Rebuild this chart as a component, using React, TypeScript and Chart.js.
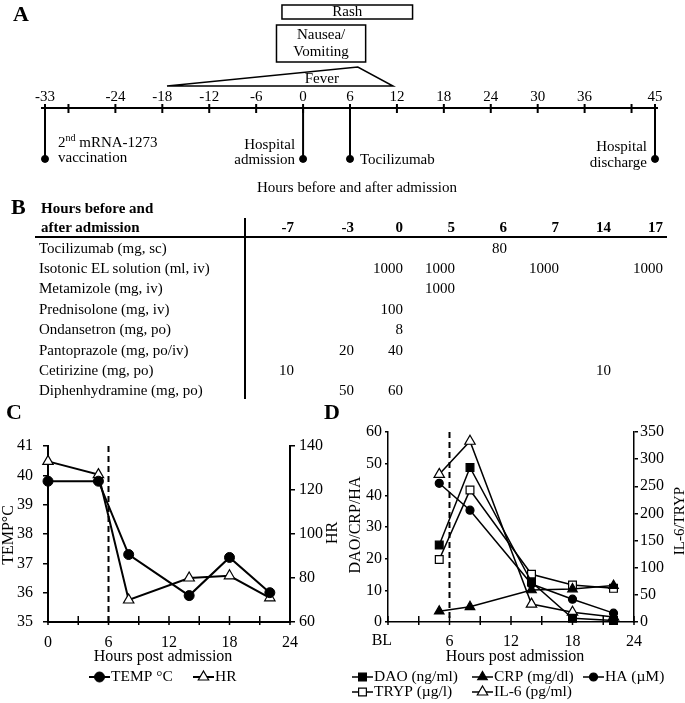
import React, { useEffect, useRef } from 'react';
import { Chart, registerables } from 'chart.js';

Chart.register(...registerables);

const SERIF = '"Liberation Serif", "Times New Roman", Times, serif';

// ---------------- Panel A: timeline ----------------
const timelineStart = -33;
const timelineEnd = 45;
const timelineTickHours = [-33, -30, -24, -18, -12, -6, 0, 6, 12, 18, 24, 30, 36, 42, 45];
const timelineLabelHours = [-33, -24, -18, -12, -6, 0, 6, 12, 18, 24, 30, 36, 45];
const eventHours = [-33, 0, 6, 45];
const rashSpan = [-2.7, 14];
const nauseaSpan = [-3.4, 8];
const feverSpan = [-17.4, 7, 11.5];

// ---------------- Panel B: medication table ----------------
const tableHours = ['-7', '-3', '0', '5', '6', '7', '14', '17'];
const drugNames = [
  'Tocilizumab (mg, sc)',
  'Isotonic EL solution (ml, iv)',
  'Metamizole (mg, iv)',
  'Prednisolone (mg, iv)',
  'Ondansetron (mg, po)',
  'Pantoprazole (mg, po/iv)',
  'Cetirizine (mg, po)',
  'Diphenhydramine (mg, po)',
];
const tocilizumabDoses = ['', '', '', '', '80', '', '', ''];
const isotonicDoses = ['', '', '1000', '1000', '', '1000', '', '1000'];
const metamizoleDoses = ['', '', '', '1000', '', '', '', ''];
const prednisoloneDoses = ['', '', '100', '', '', '', '', ''];
const ondansetronDoses = ['', '', '8', '', '', '', '', ''];
const pantoprazoleDoses = ['', '20', '40', '', '', '', '', ''];
const cetirizineDoses = ['10', '', '', '', '', '', '10', ''];
const diphenhydramineDoses = ['', '50', '60', '', '', '', '', ''];
const doseRows = [
  tocilizumabDoses, isotonicDoses, metamizoleDoses, prednisoloneDoses,
  ondansetronDoses, pantoprazoleDoses, cetirizineDoses, diphenhydramineDoses,
];

// ---------------- Panel C: vitals ----------------
const vitalHours = [0, 5, 8, 14, 18, 22];
const tempValues = [39.8, 39.8, 37.3, 35.9, 37.2, 36.0];
const hrValues = [133, 127, 70, 80, 81, 71];
const tocilizumabHour = 6;

// ---------------- Panel D: labs ----------------
const labHours = [5, 8, 14, 18, 22];
const baselineHour = -1;
const labNames = ['DAO (ng/ml)', 'CRP (mg/dl)', 'HA (µM)', 'TRYP (µg/l)', 'IL-6 (pg/ml)'];
const daoValues = [24.3, 48.8, 12.6, 1.2, 0.5];
const crpValues = [3.4, 4.8, 10.1, 10.4, 11.5];
const haValues = [43.8, 35.3, 12.0, 7.2, 2.8];
const trypValues = [115, 243, 88, 68, 62];
const il6Values = [272, 333, 33, 18, 9];
const baselineValues = [0.3, null, 4.7, 79, null];

// ---------------- layout / style (not data) ----------------
const A_LAYOUT = {
  axisY: 108, tickTop: 104, tickBottom: 113, labelY: 97, dotY: 162,
  rashTop: 5, rashBottom: 19, nauseaTop: 25, nauseaBottom: 62,
  feverBase: 86, feverPeak: 67, feverTextHour: 2.4, feverTextY: 79,
};
const TABLE_COL_RIGHT = [294, 354, 403, 455, 507, 559, 611, 663];
const TABLE_ROW_Y0 = 248;
const TABLE_ROW_STEP = 20.4;

const labStyles = [
  { axis: 'y', style: 'rect', fill: '#000', r: 5.5 },
  { axis: 'y', style: 'triangle', fill: '#000', r: 5.5 },
  { axis: 'y', style: 'circle', fill: '#000', r: 4 },
  { axis: 'y1', style: 'rect', fill: '#fff', r: 5.5 },
  { axis: 'y1', style: 'triangle', fill: '#fff', r: 6 },
];

function txt(ctx: CanvasRenderingContext2D, s: string, x: number, y: number, size: number, align: CanvasTextAlign = 'center', bold = false) {
  ctx.font = `${bold ? 'bold ' : ''}${size}px ${SERIF}`;
  ctx.textAlign = align;
  ctx.textBaseline = 'middle';
  ctx.fillStyle = '#000';
  ctx.fillText(s, x, y);
}

function seg(ctx: CanvasRenderingContext2D, x1: number, y1: number, x2: number, y2: number) {
  ctx.beginPath();
  ctx.moveTo(x1, y1);
  ctx.lineTo(x2, y2);
  ctx.stroke();
}

function marker(ctx: CanvasRenderingContext2D, style: string, x: number, y: number, r: number, fill: string, bw: number) {
  ctx.beginPath();
  if (style === 'circle') ctx.arc(x, y, r, 0, Math.PI * 2);
  else if (style === 'rect') {
    const s = r * Math.SQRT1_2;
    ctx.rect(x - s, y - s, 2 * s, 2 * s);
  } else {
    ctx.moveTo(x, y - r);
    ctx.lineTo(x + 0.866 * r, y + 0.5 * r);
    ctx.lineTo(x - 0.866 * r, y + 0.5 * r);
    ctx.closePath();
  }
  ctx.fillStyle = fill;
  ctx.fill();
  ctx.lineWidth = bw;
  ctx.strokeStyle = '#000';
  ctx.stroke();
}

const timelinePlugin = {
  id: 'timelineDecor',
  beforeDatasetsDraw(chart: any) {
    const { ctx } = chart;
    const xs = chart.scales.x;
    const px = (h: number) => xs.getPixelForValue(h);
    const L = A_LAYOUT;
    ctx.save();
    ctx.strokeStyle = '#000';
    ctx.lineWidth = 2;
    seg(ctx, px(timelineStart) - 4, L.axisY, px(timelineEnd) + 3, L.axisY);
    timelineTickHours.forEach((h) => seg(ctx, px(h), L.tickTop, px(h), L.tickBottom));
    eventHours.forEach((h) => seg(ctx, px(h), L.axisY, px(h), L.dotY));
    timelineLabelHours.forEach((h) => txt(ctx, String(h), px(h), L.labelY, 15));

    ctx.lineWidth = 1.5;
    // fever triangle
    ctx.beginPath();
    ctx.moveTo(px(feverSpan[0]), L.feverBase);
    ctx.lineTo(px(feverSpan[1]), L.feverPeak);
    ctx.lineTo(px(feverSpan[2]), L.feverBase);
    ctx.closePath();
    ctx.stroke();
    txt(ctx, 'Fever', px(L.feverTextHour), L.feverTextY, 15);
    // rash box
    ctx.strokeRect(px(rashSpan[0]), L.rashTop, px(rashSpan[1]) - px(rashSpan[0]), L.rashBottom - L.rashTop);
    txt(ctx, 'Rash', (px(rashSpan[0]) + px(rashSpan[1])) / 2, (L.rashTop + L.rashBottom) / 2 + 0.5, 15);
    // nausea box
    ctx.strokeRect(px(nauseaSpan[0]), L.nauseaTop, px(nauseaSpan[1]) - px(nauseaSpan[0]), L.nauseaBottom - L.nauseaTop);
    const nc = (px(nauseaSpan[0]) + px(nauseaSpan[1])) / 2;
    txt(ctx, 'Nausea/', nc, 35, 15);
    txt(ctx, 'Vomiting', nc, 52, 15);

    // event labels
    const vx = px(eventHours[0]) + 13;
    txt(ctx, '2', vx, 143, 15, 'left');
    ctx.font = `15px ${SERIF}`;
    const w1 = ctx.measureText('2').width;
    txt(ctx, 'nd', vx + w1, 138, 10, 'left');
    ctx.font = `10px ${SERIF}`;
    const w2 = ctx.measureText('nd').width;
    txt(ctx, ' mRNA-1273', vx + w1 + w2, 143, 15, 'left');
    txt(ctx, 'vaccination', vx, 158, 15, 'left');
    txt(ctx, 'Hospital', px(eventHours[1]) - 8, 145, 15, 'right');
    txt(ctx, 'admission', px(eventHours[1]) - 8, 160, 15, 'right');
    txt(ctx, 'Tocilizumab', px(eventHours[2]) + 10, 160, 15, 'left');
    txt(ctx, 'Hospital', px(eventHours[3]) - 8, 147, 15, 'right');
    txt(ctx, 'discharge', px(eventHours[3]) - 8, 163, 15, 'right');
    txt(ctx, 'Hours before and after admission', 357, 188, 15);
    ctx.restore();
  },
};

type LegendEntry = { ds: number; x: number; y: number; text: string };
function panelPlugin(cfg: {
  leftTitle: string; leftTitleX: number; leftTitleY: number;
  rightTitle: string; rightTitleX: number; rightTitleY: number; rightTitleSize: number;
  xTitleX: number; xTitleY: number; legend: LegendEntry[]; blLabel?: boolean;
}) {
  return {
    id: 'panelDecor',
    beforeDatasetsDraw(chart: any) {
      const { ctx, chartArea } = chart;
      const xs = chart.scales.x;
      ctx.save();
      ctx.strokeStyle = '#000';
      // dashed tocilizumab line
      ctx.lineWidth = 2;
      ctx.setLineDash([6, 4]);
      const dx = xs.getPixelForValue(tocilizumabHour);
      seg(ctx, dx, chartArea.top, dx, chartArea.bottom);
      ctx.setLineDash([]);
      // x tick marks crossing the axis
      ctx.lineWidth = 1.5;
      xs.ticks.forEach((t: any) => {
        const p = xs.getPixelForValue(t.value);
        seg(ctx, p, chartArea.bottom - 6, p, chartArea.bottom + 3);
      });
      ctx.restore();
    },
    afterDraw(chart: any) {
      const { ctx } = chart;
      const xs = chart.scales.x;
      ctx.save();
      if (cfg.blLabel) txt(ctx, 'BL', xs.getPixelForValue(-0.6), 246, 16);
      // axis titles
      ctx.save();
      ctx.translate(cfg.leftTitleX, cfg.leftTitleY);
      ctx.rotate(-Math.PI / 2);
      txt(ctx, cfg.leftTitle, 0, 0, 16);
      ctx.restore();
      ctx.save();
      ctx.translate(cfg.rightTitleX, cfg.rightTitleY);
      ctx.rotate(-Math.PI / 2);
      txt(ctx, cfg.rightTitle, 0, 0, cfg.rightTitleSize);
      ctx.restore();
      txt(ctx, 'Hours post admission', cfg.xTitleX, cfg.xTitleY, 16);
      // legend
      cfg.legend.forEach((item) => {
        const ds = chart.data.datasets[item.ds];
        ctx.strokeStyle = '#000';
        ctx.lineWidth = ds.borderWidth;
        seg(ctx, item.x, item.y, item.x + 21, item.y);
        marker(ctx, ds.pointStyle, item.x + 10.5, item.y, ds.pointRadius, ds.pointBackgroundColor, ds.pointBorderWidth);
        txt(ctx, item.text, item.x + 22, item.y, 15.5, 'left');
      });
      ctx.restore();
    },
  };
}

const tickFont = { family: SERIF, size: 16 };

function yAxis(position: 'left' | 'right', min: number, max: number, step: number, width: number, tickLen: number, pad: number, bw: number) {
  return {
    type: 'linear',
    position,
    min,
    max,
    ticks: { stepSize: step, color: '#000', font: tickFont, padding: pad },
    grid: { display: true, drawOnChartArea: false, drawTicks: true, tickLength: tickLen, color: '#000', lineWidth: 1.5 },
    border: { display: true, color: '#000', width: bw },
    afterFit: (s: any) => { s.width = width; },
  };
}

function makeTimeline(canvas: HTMLCanvasElement) {
  return new Chart(canvas, {
    type: 'scatter',
    data: {
      datasets: [{
        data: eventHours.map((h) => ({ x: h, y: A_LAYOUT.dotY })),
        pointRadius: 3.5,
        pointBackgroundColor: '#000',
        pointBorderColor: '#000',
        clip: false,
      } as any],
    },
    options: {
      responsive: false,
      animation: false,
      layout: { padding: { left: 45, right: 30, top: 0, bottom: 0 } },
      plugins: { legend: { display: false }, tooltip: { enabled: false } },
      scales: {
        x: { type: 'linear', min: timelineStart, max: timelineEnd, display: false },
        y: { type: 'linear', min: 0, max: 200, reverse: true, display: false },
      },
    } as any,
    plugins: [timelinePlugin as any],
  });
}

function makeVitals(canvas: HTMLCanvasElement) {
  return new Chart(canvas, {
    type: 'line',
    data: {
      datasets: [
        {
          label: 'TEMP °C',
          data: vitalHours.map((h, i) => ({ x: h, y: tempValues[i] })),
          yAxisID: 'y',
          borderColor: '#000', borderWidth: 2,
          pointStyle: 'circle', pointRadius: 5,
          pointBackgroundColor: '#000', pointBorderColor: '#000', pointBorderWidth: 1,
          tension: 0, clip: false, fill: false,
        },
        {
          label: 'HR',
          data: vitalHours.map((h, i) => ({ x: h, y: hrValues[i] })),
          yAxisID: 'y1',
          borderColor: '#000', borderWidth: 2,
          pointStyle: 'triangle', pointRadius: 6,
          pointBackgroundColor: '#fff', pointBorderColor: '#000', pointBorderWidth: 1.2,
          tension: 0, clip: false, fill: false,
        },
      ] as any,
    },
    options: {
      responsive: false,
      animation: false,
      layout: { padding: { top: 51, left: 0, right: 0, bottom: 0 } },
      plugins: { legend: { display: false }, tooltip: { enabled: false } },
      scales: {
        x: {
          type: 'linear', min: 0, max: 24,
          ticks: {
            stepSize: 3, autoSkip: false, maxRotation: 0, minRotation: 0, padding: 3,
            color: '#000', font: tickFont,
            callback: (v: any) => (Number(v) % 6 === 0 ? String(v) : ''),
          },
          grid: { display: false },
          border: { display: true, color: '#000', width: 2 },
          afterFit: (s: any) => { s.height = 81; },
        },
        y: yAxis('left', 35, 41, 1, 48, 5, 10, 2),
        y1: yAxis('right', 60, 140, 20, 55, 5, 4, 2),
      },
    } as any,
    plugins: [panelPlugin({
      leftTitle: 'TEMP°C', leftTitleX: 9, leftTitleY: 140,
      rightTitle: 'HR', rightTitleX: 333, rightTitleY: 138, rightTitleSize: 16,
      xTitleX: 163, xTitleY: 262,
      legend: [
        { ds: 0, x: 89, y: 282, text: 'TEMP °C' },
        { ds: 1, x: 193, y: 282, text: 'HR' },
      ],
    }) as any],
  });
}

function makeLabs(canvas: HTMLCanvasElement) {
  const series = [daoValues, crpValues, haValues, trypValues, il6Values];
  const main = series.map((vals, i) => ({
    label: labNames[i],
    data: labHours.map((h, j) => ({ x: h, y: vals[j] })),
    yAxisID: labStyles[i].axis,
    borderColor: '#000', borderWidth: 1.5,
    pointStyle: labStyles[i].style, pointRadius: labStyles[i].r,
    pointBackgroundColor: labStyles[i].fill, pointBorderColor: '#000', pointBorderWidth: 1.2,
    tension: 0, clip: false, fill: false,
  }));
  const base = baselineValues
    .map((v, i) => ({ v, i }))
    .filter((o) => o.v !== null)
    .map(({ v, i }) => ({
      label: labNames[i] + ' BL',
      data: [{ x: baselineHour, y: v }],
      yAxisID: labStyles[i].axis,
      showLine: false,
      borderColor: '#000', borderWidth: 1.5,
      pointStyle: labStyles[i].style, pointRadius: labStyles[i].r,
      pointBackgroundColor: labStyles[i].fill, pointBorderColor: '#000', pointBorderWidth: 1.2,
      clip: false,
    }));
  return new Chart(canvas, {
    type: 'line',
    data: { datasets: [...main, ...base] as any },
    options: {
      responsive: false,
      animation: false,
      layout: { padding: { top: 37, left: 0, right: 0, bottom: 0 } },
      plugins: { legend: { display: false }, tooltip: { enabled: false } },
      scales: {
        x: {
          type: 'linear', min: 0, max: 24,
          ticks: {
            stepSize: 3, autoSkip: false, maxRotation: 0, minRotation: 0, padding: 2,
            color: '#000', font: tickFont,
            callback: (v: any) => (Number(v) !== 0 && Number(v) % 6 === 0 ? String(v) : ''),
          },
          grid: { display: false },
          border: { display: true, color: '#000', width: 1.5 },
          afterFit: (s: any) => { s.height = 81; },
        },
        y: yAxis('left', 0, 60, 10, 43, 3, 3, 1.5),
        y1: yAxis('right', 0, 350, 50, 51, 4, 2, 1.5),
      },
    } as any,
    plugins: [panelPlugin({
      leftTitle: 'DAO/CRP/HA', leftTitleX: 11, leftTitleY: 130,
      rightTitle: 'IL-6/TRYP', rightTitleX: 335, rightTitleY: 126, rightTitleSize: 15,
      xTitleX: 170, xTitleY: 262, blLabel: true,
      legend: [
        { ds: 0, x: 7, y: 282, text: labNames[0] },
        { ds: 1, x: 127, y: 282, text: labNames[1] },
        { ds: 2, x: 238, y: 282, text: labNames[2] },
        { ds: 3, x: 7, y: 297, text: labNames[3] },
        { ds: 4, x: 127, y: 297, text: labNames[4] },
      ],
    }) as any],
  });
}

function Txt({ x, y, text, size = 15, bold = false, align = 'left' }: { x: number; y: number; text: string; size?: number; bold?: boolean; align?: 'left' | 'right' | 'center' }) {
  const w = 300;
  const left = align === 'left' ? x : align === 'right' ? x - w : x - w / 2;
  return (
    <div style={{
      position: 'absolute', left, top: y - size / 2 - 1, width: w, height: size + 2,
      lineHeight: `${size + 2}px`, fontSize: size, fontWeight: bold ? 700 : 400,
      textAlign: align, whiteSpace: 'nowrap', fontFamily: SERIF, color: '#000',
    }}>{text}</div>
  );
}

export default function App() {
  const aRef = useRef<HTMLCanvasElement>(null);
  const cRef = useRef<HTMLCanvasElement>(null);
  const dRef = useRef<HTMLCanvasElement>(null);

  useEffect(() => {
    const charts = [
      makeTimeline(aRef.current!),
      makeVitals(cRef.current!),
      makeLabs(dRef.current!),
    ];
    return () => charts.forEach((c) => c.destroy());
  }, []);

  return (
    <div style={{ position: 'absolute', left: 0, top: 0, width: 685, height: 703, background: '#fff', overflow: 'hidden', fontFamily: SERIF }}>
      <canvas ref={aRef} width={685} height={200} style={{ position: 'absolute', left: 0, top: 0 }} />
      <canvas ref={cRef} width={345} height={308} style={{ position: 'absolute', left: 0, top: 395 }} />
      <canvas ref={dRef} width={340} height={308} style={{ position: 'absolute', left: 345, top: 395 }} />

      <Txt x={13} y={14} text="A" size={22} bold />
      <Txt x={11} y={207} text="B" size={22} bold />
      <Txt x={6} y={412} text="C" size={22} bold />
      <Txt x={324} y={412} text="D" size={22} bold />

      {/* Panel B table */}
      <Txt x={41} y={208} text="Hours before and" bold />
      <Txt x={41} y={227} text="after admission" bold />
      {tableHours.map((h, i) => (
        <Txt key={'h' + i} x={TABLE_COL_RIGHT[i]} y={227} text={h} bold align="right" />
      ))}
      <div style={{ position: 'absolute', left: 35, top: 236, width: 632, height: 2, background: '#000' }} />
      <div style={{ position: 'absolute', left: 244, top: 218, width: 2, height: 181, background: '#000' }} />
      {drugNames.map((d, r) => (
        <Txt key={'d' + r} x={39} y={TABLE_ROW_Y0 + r * TABLE_ROW_STEP} text={d} />
      ))}
      {doseRows.map((row, r) =>
        row.map((v, c) => (v ? (
          <Txt key={`v${r}-${c}`} x={TABLE_COL_RIGHT[c]} y={TABLE_ROW_Y0 + r * TABLE_ROW_STEP} text={v} align="right" />
        ) : null)),
      )}
    </div>
  );
}
